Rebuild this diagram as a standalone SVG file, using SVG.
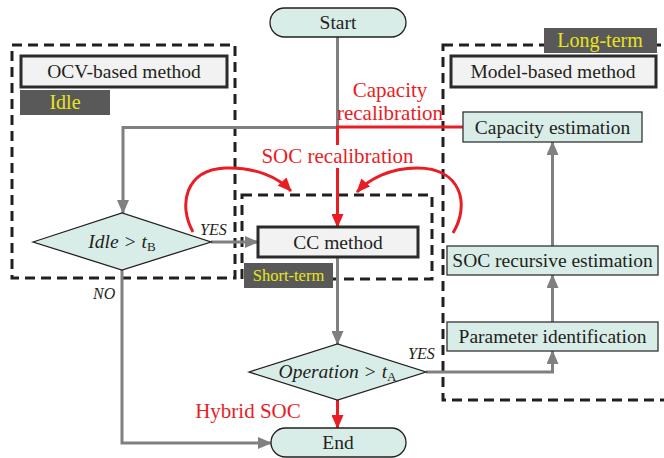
<svg xmlns="http://www.w3.org/2000/svg" width="664" height="458" viewBox="0 0 664 458">
  <defs>
    <marker id="arrGray" markerUnits="userSpaceOnUse" markerWidth="14" markerHeight="12" viewBox="0 0 14 12" refX="13" refY="6" orient="auto">
      <path d="M0,0 L14,6 L0,12 z" fill="#808080"/>
    </marker>
    <marker id="arrRed" markerUnits="userSpaceOnUse" markerWidth="14" markerHeight="12" viewBox="0 0 14 12" refX="13" refY="6" orient="auto">
      <path d="M0,0 L14,6 L0,12 z" fill="#ea1c24"/>
    </marker>
  </defs>
  <style>
    text { font-family: "Liberation Serif", "Times New Roman", serif; fill: #231f20; }
    .t { font-size: 19.5px; text-anchor: middle; }
    .it { font-style: italic; }
    .red { fill: #ea1c24; font-size: 21px; text-anchor: middle; }
    .tag { fill: #e8e619; text-anchor: middle; }
    .tagbg { fill: #595959; }
    .term { fill: #d9ede8; stroke: #231f20; stroke-width: 1.3; }
    .proc { fill: #d9ede8; stroke: #333; stroke-width: 1.3; }
    .method { fill: #f2f2f2; stroke: #2b2b2b; stroke-width: 3; }
    .dash { fill: none; stroke: #231f20; stroke-width: 3; stroke-dasharray: 10 6; }
    .g { fill: none; stroke: #808080; stroke-width: 3; }
    .r { fill: none; stroke: #ea1c24; stroke-width: 3; }
  </style>

  <!-- dashed regions -->
  <g id="regions">
    <rect class="dash" x="12" y="45" width="223" height="233"/>
    <rect class="dash" x="242" y="195" width="190" height="84"/>
    <rect class="dash" x="443" y="45" width="240" height="355"/>
  </g>

  <!-- connectors -->
  <g id="connectors">
    <path class="g" d="M337.5,37 V127.5 H123 V213" marker-end="url(#arrGray)"/>
    <path class="g" d="M211,242 H258" marker-end="url(#arrGray)"/>
    <path class="g" d="M122,270 V443 H271" marker-end="url(#arrGray)"/>
    <path class="g" d="M337.5,257 V344" marker-end="url(#arrGray)"/>
    <path class="g" d="M426,372 H552.5 V351" marker-end="url(#arrGray)"/>
    <path class="g" d="M552.5,322 V275" marker-end="url(#arrGray)"/>
    <path class="g" d="M552.5,246 V142" marker-end="url(#arrGray)"/>
    <path class="r" d="M463,127 H337.5 V145"/>
    <path class="r" d="M337.5,168 V227" marker-end="url(#arrRed)"/>
    <path class="r" d="M337.5,400 V428" marker-end="url(#arrRed)"/>
    <path class="r" d="M193,232 C178,205 185,170 225,168 C255,167 278,177 291,191" marker-end="url(#arrRed)"/>
    <path class="r" d="M453,233 C470,205 462,168 417,168 C390,168 369,179 357,192" marker-end="url(#arrRed)"/>
  </g>

  <!-- connector labels -->
  <g id="labels">
    <text class="red" x="390" y="97">Capacity</text>
    <text class="red" x="390" y="120">recalibration</text>
    <text class="red" x="337.5" y="163">SOC recalibration</text>
    <text class="red" x="248" y="418">Hybrid SOC</text>
    <text class="it" x="200" y="235" font-size="16">YES</text>
    <text class="it" x="93" y="299" font-size="16">NO</text>
    <text class="it" x="408" y="359" font-size="16">YES</text>
  </g>

  <g id="start">
    <rect class="term" x="270" y="8" width="136" height="29" rx="14.5"/>
    <text class="t" x="338" y="29">Start</text>
  </g>

  <g id="ocv">
    <rect class="method" x="21" y="56" width="206" height="31"/>
    <text class="t" x="124" y="78">OCV-based method</text>
  </g>
  <g id="idle-tag">
    <rect class="tagbg" x="20" y="90" width="90" height="25"/>
    <text class="tag" x="65" y="109" font-size="20">Idle</text>
  </g>

  <g id="model">
    <rect class="method" x="451" y="56" width="205" height="31"/>
    <text class="t" x="553" y="78">Model-based method</text>
  </g>
  <g id="long-term-tag">
    <rect class="tagbg" x="544" y="28" width="113" height="25"/>
    <text class="tag" x="600" y="47" font-size="20">Long-term</text>
  </g>

  <g id="capacity">
    <rect class="proc" x="463" y="112" width="179" height="30"/>
    <text class="t" x="552.5" y="134">Capacity estimation</text>
  </g>

  <g id="idle-decision">
    <polygon class="term" points="33,242 122,213 211,242 122,270"/>
    <text class="it" x="122" y="248" font-size="19.5" text-anchor="middle">Idle &gt; <tspan>t</tspan><tspan font-style="normal" font-size="13" dy="3">B</tspan></text>
  </g>

  <g id="cc">
    <rect class="method" x="258" y="227" width="160" height="30"/>
    <text class="t" x="338" y="249">CC method</text>
  </g>
  <g id="short-term-tag">
    <rect class="tagbg" x="244" y="263" width="89" height="25"/>
    <text class="tag" x="288.5" y="281" font-size="16.5">Short-term</text>
  </g>

  <g id="soc">
    <rect class="proc" x="447" y="246" width="211" height="29"/>
    <text class="t" x="552.5" y="267">SOC recursive estimation</text>
  </g>

  <g id="param">
    <rect class="proc" x="447" y="322" width="211" height="29"/>
    <text class="t" x="552.5" y="343">Parameter identification</text>
  </g>

  <g id="operation-decision">
    <polygon class="term" points="249,372 337.5,344 426,372 337.5,400"/>
    <text class="it" x="337.5" y="378" font-size="19.5" text-anchor="middle">Operation &gt; <tspan>t</tspan><tspan font-style="normal" font-size="13" dy="3">A</tspan></text>
  </g>

  <g id="end">
    <rect class="term" x="271" y="428" width="135" height="29" rx="14.5"/>
    <text class="t" x="338" y="449">End</text>
  </g>
</svg>
